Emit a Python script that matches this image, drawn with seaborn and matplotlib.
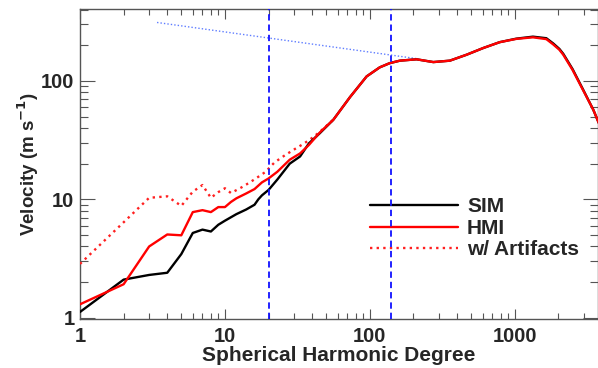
import numpy as np
import pandas as pd
import matplotlib
matplotlib.use("Agg")
import matplotlib.pyplot as plt
import seaborn as sns

# ---- data ----
sim_l = [1, 2, 3, 4, 5, 6, 7, 8, 9, 10, 12, 14, 16, 17, 18, 20, 23, 28, 33, 38,
         45, 56, 73, 95, 117, 137, 161, 210, 274, 356, 464, 604, 786, 1024, 1334,
         1650, 1840, 2030, 2160, 2500, 2950, 3480, 3800]
sim_v = [1.12, 2.1, 2.3, 2.4, 3.45, 5.2, 5.55, 5.35, 6.1, 6.6, 7.5, 8.2, 9.0, 10.0, 10.8,
         12.0, 14.7, 20.0, 23.0, 29.7, 36.0, 47.0, 73.0, 109.0, 130.0, 141.0, 148.0,
         152.0, 144.0, 148.0, 166.0, 189.0, 212.0, 227.0, 236.0, 229.0, 207.0, 186.0,
         169.0, 126.0, 85.0, 57.0, 44.0]

hmi_l = [1, 2, 3, 4, 5, 6, 7, 8, 9, 10, 11, 12, 14, 16, 18, 20, 23, 28, 33, 38,
         45, 56, 73, 95, 117, 137, 161, 210, 274, 356, 464, 604, 786, 1024, 1334,
         1650, 1840, 2030, 2160, 2500, 2950, 3480, 3800]
hmi_v = [1.3, 1.92, 4.0, 5.05, 4.97, 7.8, 8.1, 7.8, 8.6, 8.6, 9.5, 10.2, 11.2, 12.2,
         13.9, 15.0, 17.1, 21.6, 24.4, 28.8, 36.5, 47.0, 73.0, 109.0, 130.0, 141.0,
         148.0, 152.0, 144.0, 148.0, 166.0, 189.0, 212.0, 226.0, 233.0, 225.0, 203.0,
         183.0, 166.0, 124.0, 84.0, 57.0, 44.0]

art_l = [1, 2, 3, 4, 5, 6, 7, 8, 9, 10, 11, 13, 15, 17, 19, 22, 26, 31, 35, 40, 45, 56]
art_v = [2.85, 6.4, 10.3, 10.6, 8.8, 11.6, 13.2, 10.3, 11.5, 12.4, 11.3, 12.6, 14.0,
         15.5, 17.0, 20.5, 23.6, 27.0, 29.5, 33.0, 37.0, 47.0]

guide_l = [3.4, 210]
guide_v = [311, 154]

vlines_l = [20, 140]

xticks = [1, 10, 100, 1000]
yticks = [1, 10, 100]

# ---- figure ----
sns.set_style("white")
plt.rcParams["font.family"] = ["Liberation Sans", "DejaVu Sans"]
plt.rcParams["font.weight"] = "bold"
plt.rcParams["mathtext.default"] = "bf"

fig = plt.figure(figsize=(5.98, 3.68), dpi=100)
ax = fig.add_axes([80 / 598, 1 - 319 / 368, 518 / 598, 310 / 368])

df_sim = pd.DataFrame({"l": sim_l, "v": sim_v})
df_hmi = pd.DataFrame({"l": hmi_l, "v": hmi_v})
df_art = pd.DataFrame({"l": art_l, "v": art_v})
df_guide = pd.DataFrame({"l": guide_l, "v": guide_v})

sns.lineplot(data=df_guide, x="l", y="v", ax=ax, color="#5f7dff", lw=1.0,
             linestyle=(0, (1, 1.5)), zorder=2)
sns.lineplot(data=df_art, x="l", y="v", ax=ax, color="#ff2020", lw=1.7,
             linestyle=(0, (1, 1.8)), label="w/ Artifacts", zorder=3)
sns.lineplot(data=df_sim, x="l", y="v", ax=ax, color="black", lw=1.7,
             label="SIM", zorder=4)
sns.lineplot(data=df_hmi, x="l", y="v", ax=ax, color="#ff0000", lw=1.7,
             label="HMI", zorder=5)

for xv in vlines_l:
    ax.axvline(xv, color="#1010ff", lw=1.3, linestyle=(0, (3.5, 2.2)), zorder=6)

ax.set_xscale("log")
ax.set_yscale("log")
ax.set_xlim(1, 3750)
ax.set_ylim(0.977, 404)

ax.set_xticks(xticks)
ax.set_xticklabels([str(t) for t in xticks])
ax.set_yticks(yticks)
ax.set_yticklabels([str(t) for t in yticks])

for s in ax.spines.values():
    s.set_color("#555555")
    s.set_linewidth(1.0)

ax.tick_params(axis="x", which="major", direction="in", length=7, width=0.8,
               color="#555555", top=True, bottom=True, pad=6, labelsize=14.5)
ax.tick_params(axis="x", which="minor", direction="in", length=4, width=0.8,
               color="#555555", top=True, bottom=True)
ax.tick_params(axis="y", which="major", direction="in", length=11, width=0.8,
               color="#555555", left=True, right=True, pad=4, labelsize=14.5)
ax.tick_params(axis="y", which="minor", direction="in", length=6, width=0.8,
               color="#555555", left=True, right=True)
for lab in ax.get_xticklabels() + ax.get_yticklabels():
    lab.set_fontweight("bold")

ax.set_xlabel("Spherical Harmonic Degree", fontsize=15, fontweight="bold", labelpad=0)
ax.set_ylabel(r"Velocity (m s$^{\mathbf{-1}}$)", fontsize=13.5, fontweight="bold", labelpad=0)

handles, labels = ax.get_legend_handles_labels()
order = [labels.index("SIM"), labels.index("HMI"), labels.index("w/ Artifacts")]
leg = ax.legend([handles[i] for i in order], [labels[i] for i in order],
                loc="upper left", bbox_to_anchor=(0.56, 0.392), frameon=False,
                borderpad=0, borderaxespad=0, handlelength=4.2, handletextpad=0.45,
                labelspacing=0.12, prop={"weight": "bold", "size": 15})

fig.savefig("out.png", dpi=100)
